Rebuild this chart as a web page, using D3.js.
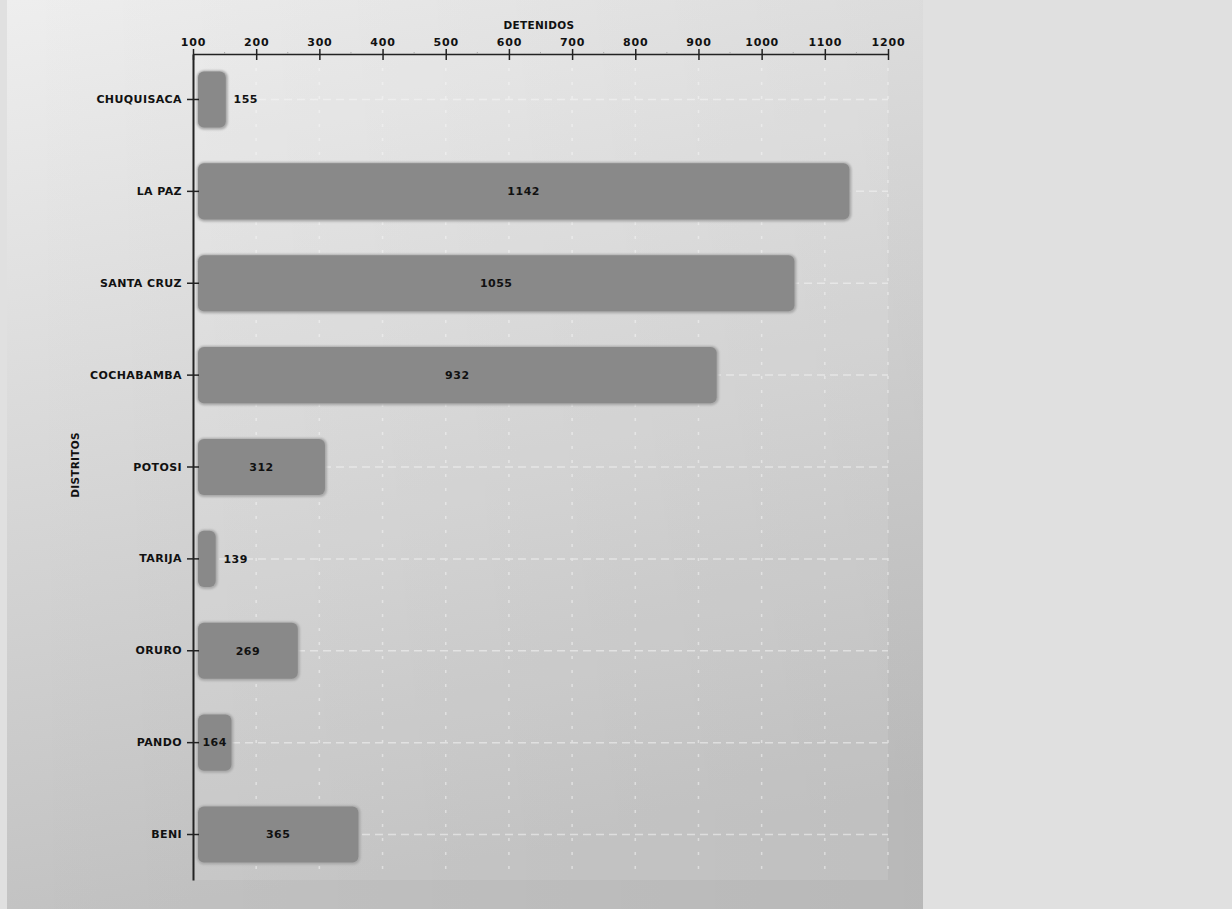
<!DOCTYPE html>
<html>
<head>
<meta charset="utf-8">
<script src="https://cdn.jsdelivr.net/npm/d3@7"></script>
<style>
  body { margin: 0; background: #e0e0e0; }
  text { font-family: "DejaVu Sans", sans-serif; font-weight: bold; fill: #111; }
</style>
</head>
<body>
<div id="chart"></div>
<script>
// datos
var distritos = ['CHUQUISACA', 'LA PAZ', 'SANTA CRUZ', 'COCHABAMBA', 'POTOSI', 'TARIJA', 'ORURO', 'PANDO', 'BENI'];
var detenidos = [155, 1142, 1055, 932, 312, 139, 269, 164, 365];
var xTicks = [100, 200, 300, 400, 500, 600, 700, 800, 900, 1000, 1100, 1200];

var data = distritos.map(function(d, i){ return {name: d, value: detenidos[i]}; });

var W = 1232, H = 909;
var svg = d3.select('#chart').append('svg').attr('width', W).attr('height', H);

// fondo con degradado
var defs = svg.append('defs');
var bg = defs.append('linearGradient').attr('id', 'bg')
  .attr('x1', 0).attr('y1', 0).attr('x2', 0.15).attr('y2', 1);
bg.append('stop').attr('offset', 0).attr('stop-color', '#eeeeee');
bg.append('stop').attr('offset', 1).attr('stop-color', '#c2c2c2');
var side = defs.append('linearGradient').attr('id', 'side')
  .attr('x1', 0).attr('y1', 0).attr('x2', 1).attr('y2', 0);
side.append('stop').attr('offset', 0).attr('stop-color', '#000').attr('stop-opacity', 0);
side.append('stop').attr('offset', 1).attr('stop-color', '#000').attr('stop-opacity', 0.05);

var blur = defs.append('filter').attr('id', 'soft').attr('x', '-10%').attr('y', '-10%').attr('width', '120%').attr('height', '120%');
blur.append('feGaussianBlur').attr('stdDeviation', 1.2);

svg.append('rect').attr('x', 7).attr('y', 0).attr('width', 916).attr('height', H).attr('fill', 'url(#bg)');
svg.append('rect').attr('x', 7).attr('y', 0).attr('width', 916).attr('height', H).attr('fill', 'url(#side)');

var m = {top: 54, left: 193, right: 888, bottom: 880};

// area del grafico un poco mas clara
svg.append('rect').attr('x', m.left).attr('y', m.top)
  .attr('width', m.right - m.left).attr('height', m.bottom - m.top)
  .attr('fill', '#fff').attr('opacity', 0.1);

var x = d3.scaleLinear().domain([100, 1200]).range([m.left, m.right]);
var y = d3.scaleBand().domain(distritos).range([m.top, m.bottom]).paddingInner(0.39).paddingOuter(0.19);

// rejilla
var grid = svg.append('g').attr('opacity', 0.55);
grid.selectAll('.vg').data(xTicks.slice(1)).enter().append('line')
  .attr('x1', function(d){ return x(d); }).attr('x2', function(d){ return x(d); })
  .attr('y1', m.top).attr('y2', m.bottom)
  .attr('stroke', '#f6f6f6').attr('stroke-width', 1.5).attr('stroke-dasharray', '3,11');
grid.selectAll('.hg').data(data).enter().append('line')
  .attr('x1', m.left).attr('x2', m.right)
  .attr('y1', function(d){ return y(d.name) + y.bandwidth() / 2; })
  .attr('y2', function(d){ return y(d.name) + y.bandwidth() / 2; })
  .attr('stroke', '#f6f6f6').attr('stroke-width', 1.5).attr('stroke-dasharray', '8,5');

// barras
var bars = svg.append('g');
bars.selectAll('.shadow').data(data).enter().append('rect')
  .attr('x', x(100) + 4).attr('y', function(d){ return y(d.name) - 1; })
  .attr('width', function(d){ return x(d.value) - x(100) - 4; })
  .attr('height', y.bandwidth() + 3)
  .attr('rx', 7).attr('fill', '#a8a8a8').attr('filter', 'url(#soft)');
bars.selectAll('.bar').data(data).enter().append('rect')
  .attr('x', x(100) + 5).attr('y', function(d){ return y(d.name); })
  .attr('width', function(d){ return x(d.value) - x(100) - 7; })
  .attr('height', y.bandwidth())
  .attr('rx', 6).attr('fill', '#898989');

// etiquetas de valor
svg.append('g').selectAll('text').data(data).enter().append('text')
  .attr('x', function(d){
    var w = x(d.value) - x(100) - 7;
    return w > 32 ? x(100) + 5 + w / 2 : x(d.value) + 18;
  })
  .attr('y', function(d){ return y(d.name) + y.bandwidth() / 2; })
  .attr('dy', '0.35em').attr('text-anchor', 'middle')
  .attr('font-size', 11).attr('letter-spacing', 0.5).text(function(d){ return d.value; });

// eje x (arriba)
var xAxis = d3.axisTop(x).tickValues(xTicks).tickSize(6).tickSizeOuter(0).tickFormat(d3.format('d'));
var gx = svg.append('g').attr('transform', 'translate(0,' + m.top + ')').call(xAxis);
gx.select('.domain').attr('stroke', '#222').attr('stroke-width', 1.5);
gx.selectAll('.tick line').attr('stroke', '#222').attr('y2', 6).attr('y1', -5).attr('stroke-width', 1.5);
gx.selectAll('.tick text').attr('y', -8).attr('font-size', 11).attr('letter-spacing', 0.8)
  .attr('font-family', '"DejaVu Sans", sans-serif');
// marcas menores
gx.selectAll('.minor').data(d3.range(150, 1200, 100)).enter().append('line')
  .attr('x1', function(d){ return x(d); }).attr('x2', function(d){ return x(d); })
  .attr('y1', -2).attr('y2', 0).attr('stroke', '#aaa');

// eje y
var yAxis = d3.axisLeft(y).tickSize(8).tickSizeOuter(0);
var gy = svg.append('g').attr('transform', 'translate(' + m.left + ',0)').call(yAxis);
gy.select('.domain').attr('stroke', '#222').attr('stroke-width', 2);
gy.selectAll('.tick line').attr('stroke', '#222').attr('x1', 6).attr('x2', -6).attr('stroke-width', 1.5);
gy.selectAll('.tick text').attr('x', -11).attr('font-size', 11).attr('letter-spacing', 0.4)
  .attr('font-family', '"DejaVu Sans", sans-serif');

// titulos
svg.append('text').attr('x', 539).attr('y', 29).attr('text-anchor', 'middle')
  .attr('font-size', 10.5).attr('letter-spacing', 0.3).text('DETENIDOS');
svg.append('text').attr('transform', 'translate(79,' + 465 + ') rotate(-90)')
  .attr('text-anchor', 'middle').attr('font-size', 10.5).attr('letter-spacing', 0.3).text('DISTRITOS');
</script>
</body>
</html>
